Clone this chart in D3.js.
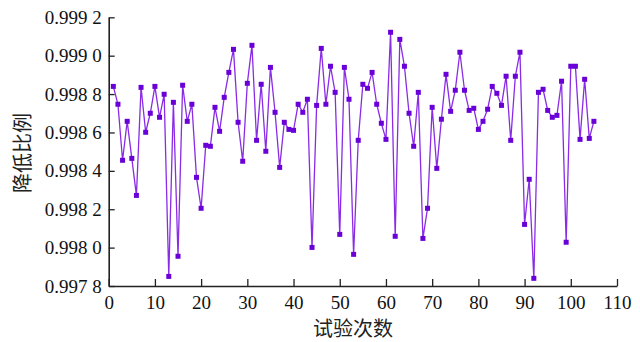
<!DOCTYPE html>
<html>
<head>
<meta charset="utf-8">
<script src="https://cdn.jsdelivr.net/npm/d3@7"></script>
<style>
  body { margin: 0; background: #fff; }
  svg { display: block; }
  .tick text { font-family: "Liberation Serif", "Times New Roman", serif; font-size: 19px; fill: #111; }
  .lab { font-family: "Noto Sans CJK SC", sans-serif; font-size: 20px; fill: #222; }
</style>
</head>
<body>
<script>
// values
var trials = d3.range(1, 106);
var ratio = [
  0.99884, 0.998747, 0.998455, 0.998658, 0.998465, 0.998272, 0.998835, 0.998601, 0.9987, 0.99884,
  0.998679, 0.998799, 0.99785, 0.998757, 0.997955, 0.998846, 0.998658, 0.998747, 0.998366, 0.998205,
  0.998533, 0.998528, 0.998731, 0.998606, 0.998783, 0.998913, 0.999033, 0.998653, 0.99845, 0.998856,
  0.999054, 0.998559, 0.998851, 0.998502, 0.998939, 0.998705, 0.998418, 0.998653, 0.998616, 0.998611,
  0.998747, 0.998705, 0.998773, 0.998001, 0.998741, 0.999038, 0.998747, 0.998945, 0.998809, 0.998069,
  0.998939, 0.998773, 0.997965, 0.998559, 0.998851, 0.99883, 0.998913, 0.998747, 0.998648, 0.998564,
  0.999122, 0.998059, 0.999085, 0.998945, 0.9987, 0.998528, 0.998809, 0.998048, 0.998205, 0.998731,
  0.998413, 0.998669, 0.998903, 0.99871, 0.99882, 0.999018, 0.99882, 0.998715, 0.998726, 0.998616,
  0.998658, 0.998721, 0.99884, 0.998804, 0.998741, 0.998893, 0.998559, 0.998893, 0.999018, 0.998121,
  0.998356, 0.99784, 0.998809, 0.998825, 0.998715, 0.998679, 0.998689, 0.998867, 0.998028, 0.998945,
  0.998945, 0.998564, 0.998877, 0.998569, 0.998658
];
var xTicks = d3.range(0, 111, 10);
var yTicks = [0.9978, 0.998, 0.9982, 0.9984, 0.9986, 0.9988, 0.999, 0.9992];

var width = 640, height = 342;
var mLeft = 108.7, mRight = 617, mTop = 17.3, mBottom = 286;

var svg = d3.select('body').append('svg').attr('width', width).attr('height', height);

var x = d3.scaleLinear().domain([0, 110]).range([mLeft, mRight]);
var y = d3.scaleLinear().domain([0.9978, 0.9992]).range([mBottom, mTop]);

// y labels like "0.999 2"
var fmt = function(d) {
  var s = d3.format('.4f')(d);
  return s.slice(0, -1) + ' ' + s.slice(-1);
};

svg.append('g')
  .attr('transform', 'translate(0,' + mBottom + ')')
  .call(d3.axisBottom(x).tickValues(xTicks).tickSize(-7).tickPadding(10).tickSizeOuter(0));

svg.append('g')
  .attr('transform', 'translate(' + mLeft + ',0)')
  .call(d3.axisLeft(y).tickValues(yTicks).tickFormat(fmt).tickSize(-6).tickPadding(7).tickSizeOuter(0));

svg.selectAll('.domain').attr('stroke', '#222').attr('stroke-width', 1.6);
svg.selectAll('.tick line').attr('stroke', '#222').attr('stroke-width', 1.3);

// line + square markers
var line = d3.line().x((d, i) => x(trials[i])).y(d => y(d));
svg.append('path')
  .datum(ratio)
  .attr('fill', 'none')
  .attr('stroke', '#8a2be6')
  .attr('stroke-width', 1.3)
  .attr('d', line);

svg.selectAll('rect.pt')
  .data(ratio)
  .join('rect')
  .attr('class', 'pt')
  .attr('x', (d, i) => x(trials[i]) - 2.5)
  .attr('y', d => y(d) - 2.5)
  .attr('width', 5)
  .attr('height', 5)
  .attr('fill', '#6a00d8');

// axis titles
svg.append('text')
  .attr('class', 'lab')
  .attr('text-anchor', 'middle')
  .attr('x', 353)
  .attr('y', 336)
  .text('试验次数');

svg.append('text')
  .attr('class', 'lab')
  .attr('text-anchor', 'middle')
  .attr('transform', 'translate(30,153) rotate(-90)')
  .text('降低比例');
</script>
</body>
</html>
